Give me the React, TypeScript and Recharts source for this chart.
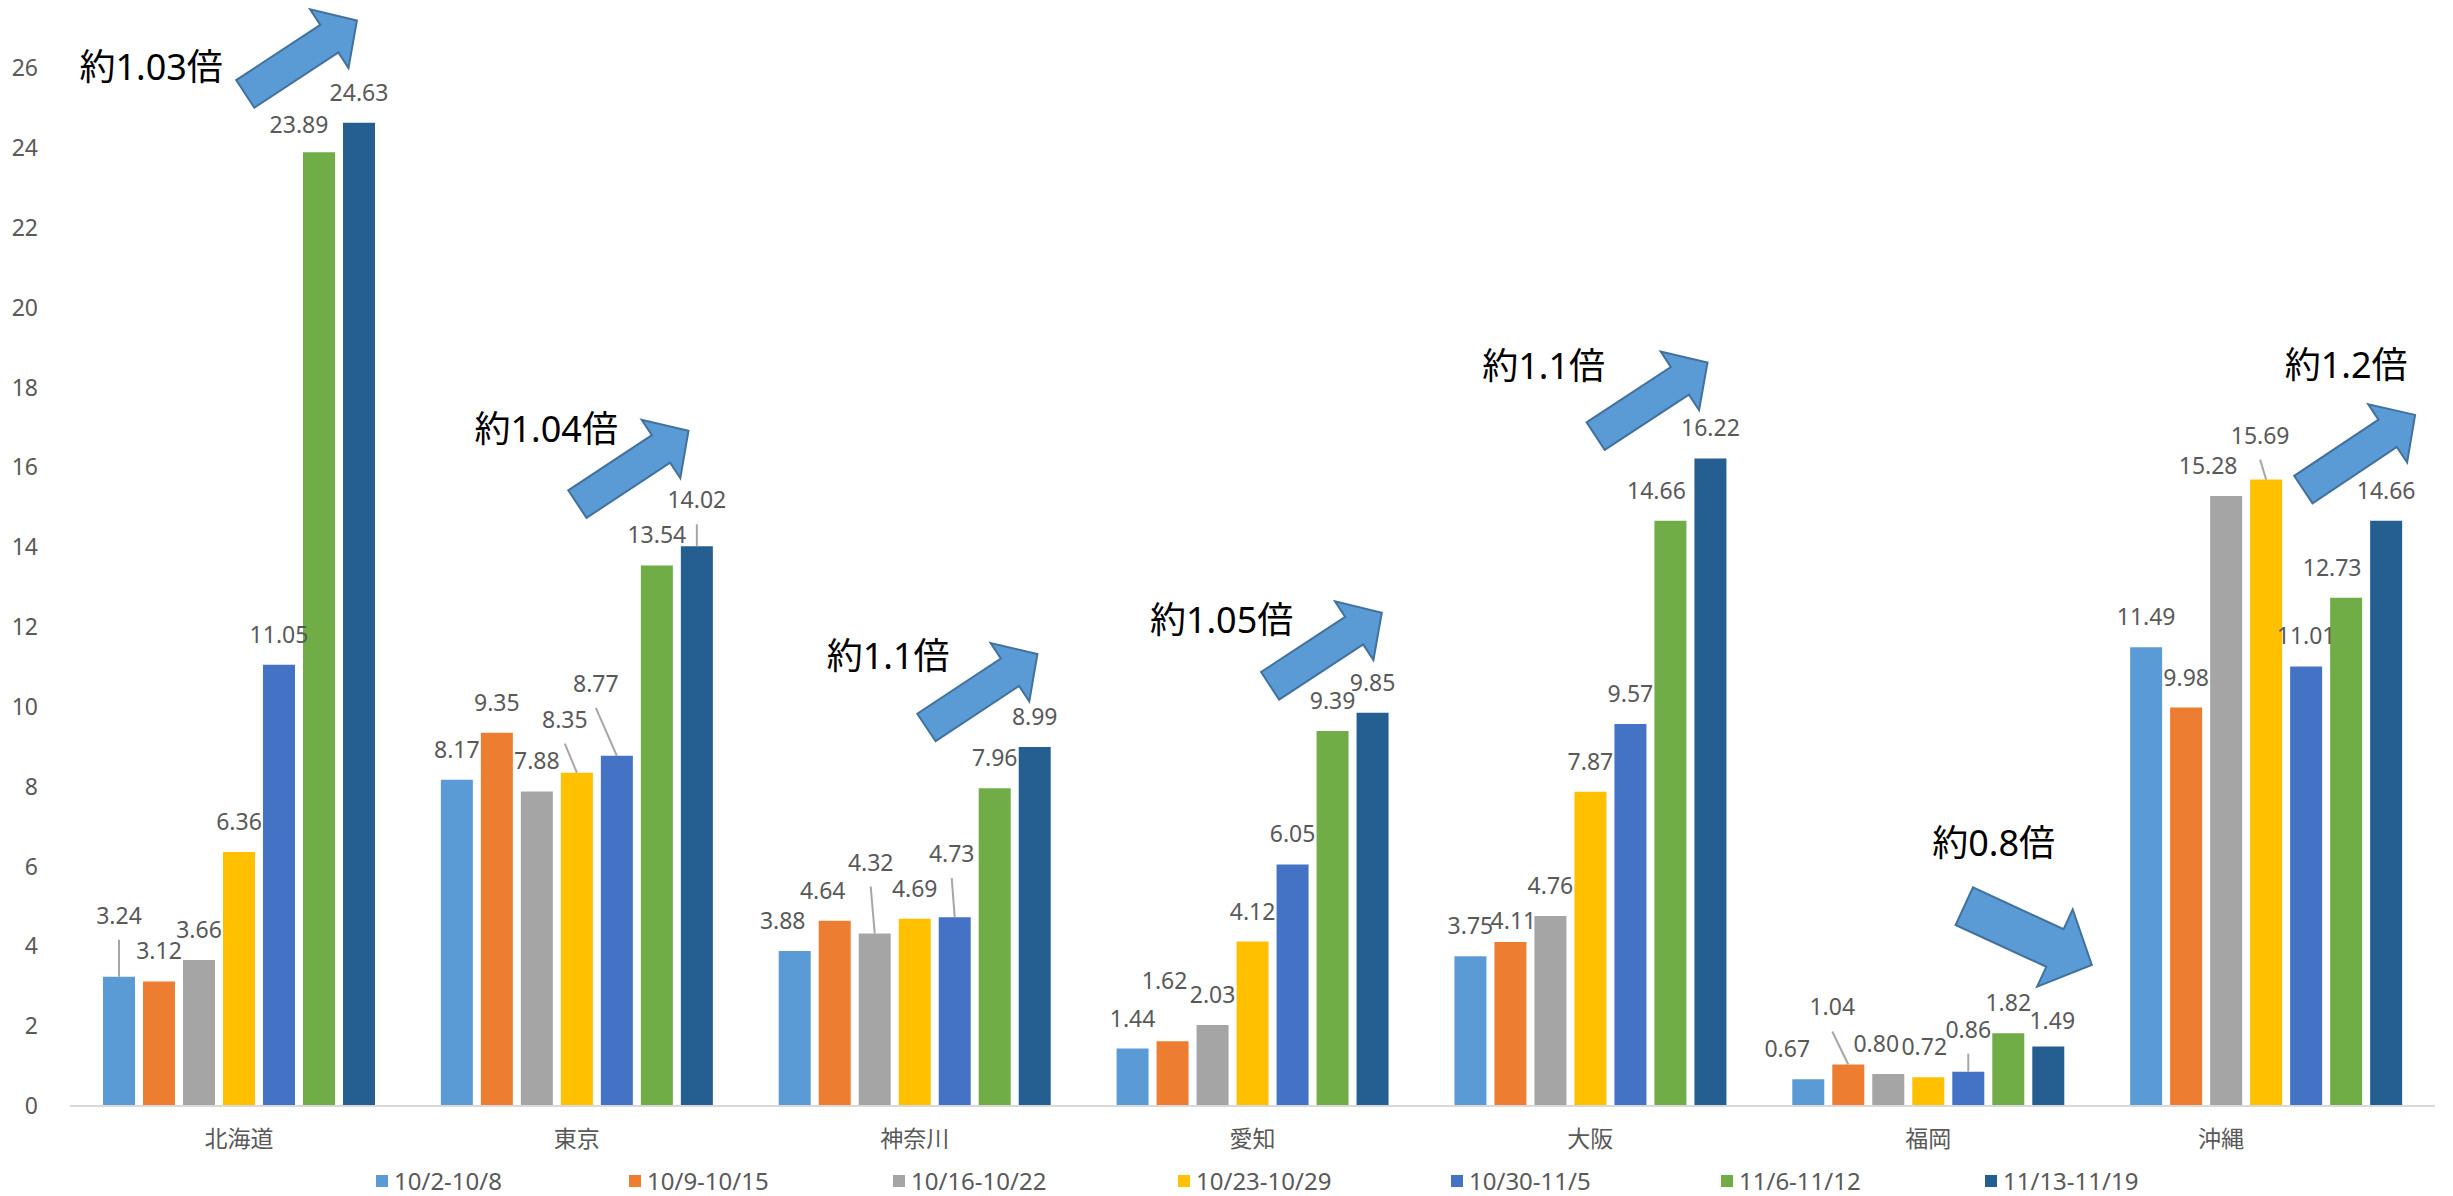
import React from 'react';
import { BarChart, Bar, XAxis, YAxis, Legend, ReferenceDot } from 'recharts';

const categories = ['北海道', '東京', '神奈川', '愛知', '大阪', '福岡', '沖縄'];
const seriesNames = ['10/2-10/8', '10/9-10/15', '10/16-10/22', '10/23-10/29', '10/30-11/5', '11/6-11/12', '11/13-11/19'];
const seriesColors = ['#5b9bd5', '#ed7d31', '#a5a5a5', '#ffc000', '#4472c4', '#70ad47', '#255e91'];

const week1 = [3.24, 8.17, 3.88, 1.44, 3.75, 0.67, 11.49];
const week2 = [3.12, 9.35, 4.64, 1.62, 4.11, 1.04, 9.98];
const week3 = [3.66, 7.88, 4.32, 2.03, 4.76, 0.8, 15.28];
const week4 = [6.36, 8.35, 4.69, 4.12, 7.87, 0.72, 15.69];
const week5 = [11.05, 8.77, 4.73, 6.05, 9.57, 0.86, 11.01];
const week6 = [23.89, 13.54, 7.96, 9.39, 14.66, 1.82, 12.73];
const week7 = [24.63, 14.02, 8.99, 9.85, 16.22, 1.49, 14.66];
const seriesValues = [week1, week2, week3, week4, week5, week6, week7];

const yTicks = [0, 2, 4, 6, 8, 10, 12, 14, 16, 18, 20, 22, 24, 26];
const ratioTexts = ['約1.03倍', '約1.04倍', '約1.1倍', '約1.05倍', '約1.1倍', '約0.8倍', '約1.2倍'];

const chartData = categories.map((name, ci) => {
  const row: Record<string, any> = { name };
  seriesValues.forEach((vals, si) => {
    row[`s${si}`] = vals[ci];
  });
  return row;
});

const FONT = "'Noto Sans', 'Noto Sans CJK JP', sans-serif";
const TEXT_GRAY = '#595959';

// label placement tweaks (category index - series index)
const labelTweaks: Record<string, { dx: number; dy: number; leader?: boolean }> = {
  '0-0': { dx: 0, dy: -31, leader: true },
  '0-5': { dx: -20, dy: 3 },
  '1-3': { dx: -12, dy: -23, leader: true },
  '1-4': { dx: -21, dy: -42, leader: true },
  '1-6': { dx: 0, dy: -16, leader: true },
  '2-0': { dx: -12, dy: 0 },
  '2-1': { dx: -12, dy: 0 },
  '2-2': { dx: -4, dy: -41, leader: true },
  '2-4': { dx: -3, dy: -33, leader: true },
  '3-1': { dx: -8, dy: -30 },
  '4-1': { dx: 3, dy: 9 },
  '4-5': { dx: -14, dy: 0 },
  '5-0': { dx: -21, dy: 0 },
  '5-1': { dx: -16, dy: -27, leader: true },
  '5-2': { dx: -12, dy: 0 },
  '5-3': { dx: -4, dy: 0 },
  '5-4': { dx: 0, dy: -12, leader: true },
  '5-6': { dx: 4, dy: 4 },
  '6-2': { dx: -18, dy: 0 },
  '6-3': { dx: -6, dy: -14, leader: true },
  '6-5': { dx: -14, dy: 0 },
};

// horizontal shift of individual category labels
const categoryLabelShift: Record<string, number> = { 沖縄: -45 };

const makeLabel = (si: number) => (props: any) => {
  const { x, y, width, value, index } = props;
  const bx = Number(x) + Number(width) / 2;
  const top = Number(y);
  const t = labelTweaks[`${index}-${si}`] || { dx: 0, dy: 0 };
  const lx = bx + t.dx;
  const ly = top - 22 + t.dy;
  return (
    <g key={`lbl-${si}-${index}`}>
      {t.leader ? (
        <line x1={lx} y1={ly + 16} x2={bx} y2={top} stroke="#a6a6a6" strokeWidth={2} />
      ) : null}
      <text x={lx} y={ly} textAnchor="middle" fontSize={23} fill={TEXT_GRAY} fontFamily={FONT}>
        {Number(value).toFixed(2)}
      </text>
    </g>
  );
};

const CategoryTick = (props: any) => {
  const { x, y, payload } = props;
  const shift = categoryLabelShift[payload.value] || 0;
  return (
    <text
      x={Number(x) + shift}
      y={Number(y) + 16}
      textAnchor="middle"
      fontSize={23}
      fill={TEXT_GRAY}
      fontFamily={FONT}
    >
      {payload.value}
    </text>
  );
};

// annotation geometry relative to the top of the last bar of each category
const annotationLayout = [
  { tail: [6.3, -28.8], tip: [118, -102.1], text: [-87.8, -56.3], shaft: 16.5, head: 35, headLen: 33 },
  { tail: [0.6, -42.1], tip: [111.7, -115.6], text: [-30.6, -117.3], shaft: 16.5, head: 35, headLen: 33 },
  { tail: [11.8, -19.6], tip: [122.8, -93.1], text: [-26.5, -91.1], shaft: 16.5, head: 35, headLen: 33 },
  { tail: [17.6, -27], tip: [129.3, -100.1], text: [-30.9, -92.8], shaft: 16.5, head: 35, headLen: 33 },
  { tail: [5.3, -22.3], tip: [117.1, -95.8], text: [-46.7, -92.5], shaft: 16.5, head: 35, headLen: 33 },
  { tail: [36.1, -140.3], tip: [163.6, -81.5], text: [65.4, -204.5], shaft: 20.7, head: 42.5, headLen: 40.6 },
  { tail: [37.3, -31.1], tip: [149, -105.8], text: [80, -155.8], shaft: 16.5, head: 35, headLen: 33 },
];

const arrowPath = (tx: number, ty: number, px: number, py: number, w: number, h: number, L: number) => {
  const dx = px - tx;
  const dy = py - ty;
  const len = Math.sqrt(dx * dx + dy * dy);
  const ux = dx / len;
  const uy = dy / len;
  const nx = -uy;
  const ny = ux;
  const bx = px - ux * L;
  const by = py - uy * L;
  const pts = [
    [tx + nx * w, ty + ny * w],
    [bx + nx * w, by + ny * w],
    [bx + nx * h, by + ny * h],
    [px, py],
    [bx - nx * h, by - ny * h],
    [bx - nx * w, by - ny * w],
    [tx - nx * w, ty - ny * w],
  ];
  return 'M' + pts.map((p) => `${p[0].toFixed(1)},${p[1].toFixed(1)}`).join(' L') + ' Z';
};

const makeAnnotation = (ai: number) => (props: any) => {
  const cx = Number(props.cx);
  const cy = Number(props.cy);
  const a = annotationLayout[ai];
  const d = arrowPath(cx + a.tail[0], cy + a.tail[1], cx + a.tip[0], cy + a.tip[1], a.shaft, a.head, a.headLen);
  return (
    <g>
      <path d={d} fill="#5b9bd5" stroke="#41719c" strokeWidth={2} strokeLinejoin="miter" />
      <text
        x={cx + a.text[0]}
        y={cy + a.text[1]}
        textAnchor="middle"
        dominantBaseline="central"
        fontSize={36}
        fill="#000000"
        fontFamily={FONT}
      >
        {ratioTexts[ai]}
      </text>
    </g>
  );
};

// legend item left edges (px within the chart)
const legendItemX = [376, 629, 893, 1178, 1451, 1721, 1985];

const renderLegend = () => (
  <div
    style={{
      position: 'relative',
      height: 32,
      fontFamily: FONT,
      fontSize: 24,
      color: TEXT_GRAY,
      whiteSpace: 'nowrap',
      lineHeight: '32px',
    }}
  >
    {seriesNames.map((n, i) => (
      <div
        key={n}
        style={{ position: 'absolute', left: legendItemX[i], top: 0, display: 'flex', alignItems: 'center' }}
      >
        <span
          style={{ width: 12, height: 12, background: seriesColors[i], marginRight: 6, display: 'inline-block' }}
        />
        {n}
      </div>
    ))}
  </div>
);

export default function App() {
  return (
    <div style={{ position: 'absolute', left: 0, top: 0, background: '#ffffff' }}>
      <BarChart
        width={2453}
        height={1196}
        data={chartData}
        margin={{ top: 68, right: 18, bottom: 30, left: 0 }}
        barGap={8}
      >
        <XAxis
          dataKey="name"
          height={60}
          tickLine={false}
          tickSize={0}
          tickMargin={25}
          axisLine={{ stroke: '#d9d9d9', strokeWidth: 2 }}
          tick={<CategoryTick />}
        />
        <YAxis
          width={70}
          domain={[0, 26]}
          ticks={yTicks}
          interval={0}
          axisLine={false}
          tickLine={false}
          tickSize={0}
          tickMargin={32}
          tick={{ fontSize: 23, fill: TEXT_GRAY, fontFamily: FONT }}
        />
        <Legend
          verticalAlign="middle"
          align="center"
          content={renderLegend}
          wrapperStyle={{ top: 1165, left: 0, width: 2453 }}
        />
        {seriesNames.map((n, si) => (
          <Bar
            key={n}
            dataKey={`s${si}`}
            name={n}
            fill={seriesColors[si]}
            barSize={32}
            isAnimationActive={false}
            label={makeLabel(si)}
          />
        ))}
        {categories.map((c, ci) => (
          <ReferenceDot
            key={`ann-${c}`}
            x={c}
            y={week7[ci]}
            r={0}
            ifOverflow="visible"
            shape={makeAnnotation(ci)}
          />
        ))}
      </BarChart>
    </div>
  );
}
